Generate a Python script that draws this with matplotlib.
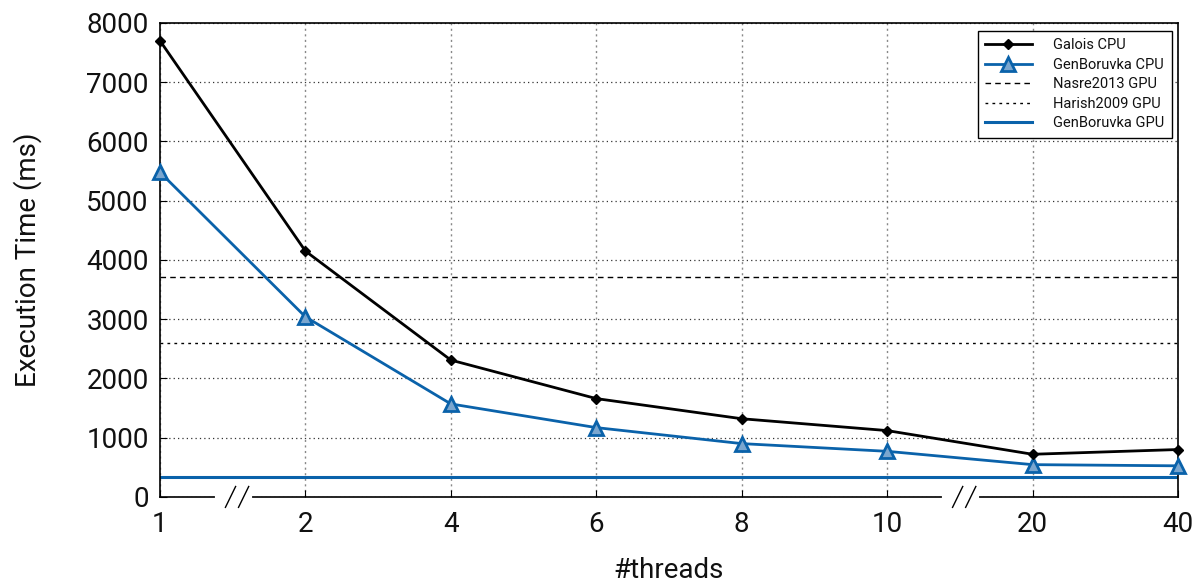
import matplotlib
matplotlib.use("Agg")
import matplotlib.pyplot as plt
import numpy as np

threads = ["1", "2", "4", "6", "8", "10", "20", "40"]
galois_cpu = [7700, 4150, 2310, 1660, 1320, 1120, 720, 800]
genboruvka_cpu = [5480, 3040, 1570, 1170, 900, 770, 545, 525]
nasre2013_gpu = 3715
harish2009_gpu = 2590
genboruvka_gpu = 330

plt.rcParams['font.family'] = ['Roboto', 'DejaVu Sans']
plt.rcParams['font.weight'] = 'normal'
blue = '#0a62aa'

fig = plt.figure(figsize=(12.02, 5.86), dpi=100)
ax = fig.add_axes([0.1331, 0.152, 0.8469, 0.8088])

x = np.arange(len(threads))
ax.axhline(nasre2013_gpu, color='black', lw=1.0, ls=(0, (4, 3)), label='Nasre2013 GPU', zorder=2)
ax.axhline(harish2009_gpu, color='black', lw=1.0, ls=(0, (2, 3)), label='Harish2009 GPU', zorder=2)
ax.axhline(genboruvka_gpu, color=blue, lw=2.2, label='GenBoruvka GPU', zorder=2)
l1, = ax.plot(x, galois_cpu, color='black', lw=2.0, marker='D', ms=5, label='Galois CPU', clip_on=False, zorder=4)
l2, = ax.plot(x, genboruvka_cpu, color=blue, lw=2.0, marker='^', ms=10, mec=blue, mew=2.0,
              mfc='#7aa6cf', label='GenBoruvka CPU', clip_on=False, zorder=3)

ax.set_xlim(0, len(threads) - 1)
ax.set_ylim(0, 8000)
ax.set_xticks(x)
ax.set_xticklabels(threads)
ax.set_yticks(np.arange(0, 8001, 1000))
ax.tick_params(direction='in', labelsize=20, length=5, pad=8, top=False, right=False,
               labelcolor='#111111')
ax.tick_params(axis='x', pad=10)

ax.grid(axis='x', color='#888888', ls=(0, (1.5, 2.5)), lw=1.0)
ax.grid(axis='y', color='#333333', ls=(0, (1, 2.5)), lw=0.9)
ax.set_axisbelow(True)
for s in ax.spines.values():
    s.set_linewidth(1.2)

ax.set_xlabel('#threads', fontsize=20, labelpad=14, color='#111111')
ax.set_ylabel('Execution Time (ms)', fontsize=20, labelpad=32, color='#111111')

handles, labels = ax.get_legend_handles_labels()
order = ['Galois CPU', 'GenBoruvka CPU', 'Nasre2013 GPU', 'Harish2009 GPU', 'GenBoruvka GPU']
hmap = dict(zip(labels, handles))
leg = ax.legend([hmap[k] for k in order], order, loc='upper right', fontsize=10.5,
                fancybox=False, edgecolor='black', framealpha=1, bbox_to_anchor=(0.9941, 0.983),
                borderaxespad=0, handlelength=3.2, borderpad=0.5, labelspacing=0.38, handletextpad=1.5)
leg.get_frame().set_linewidth(1.0)
for t in leg.get_texts():
    t.set_color('#111111')

# axis break marks on bottom spine
for xb in [0.48, 5.48]:
    ax.plot([xb - 0.09, xb + 0.14], [0, 0], transform=ax.get_xaxis_transform(),
            color='white', lw=3, clip_on=False, zorder=6)
    for dx in [0.0, 0.09]:
        ax.plot([xb - 0.03 + dx, xb + 0.04 + dx], [-0.022, 0.022], transform=ax.get_xaxis_transform(),
                color='black', lw=1.0, clip_on=False, zorder=7)

fig.savefig('out.png', dpi=100)
